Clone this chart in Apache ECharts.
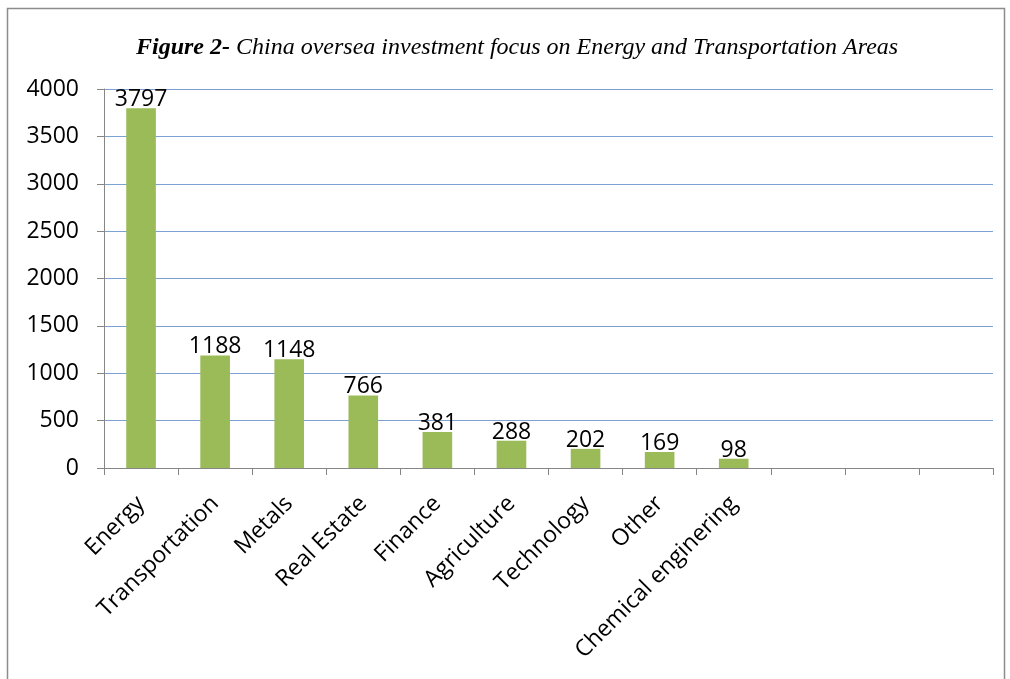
<!DOCTYPE html>
<html>
<head>
<meta charset="utf-8">
<script src="https://cdn.jsdelivr.net/npm/echarts@6/dist/echarts.min.js"></script>
<style>
html,body{margin:0;padding:0;background:#fff;}
#c{width:1010px;height:679px;}
</style>
</head>
<body>
<div id="c"></div>
<script>
const categories = ['Energy','Transportation','Metals','Real Estate','Finance','Agriculture','Technology','Other','Chemical enginering','','',''];
const values = [3797,1188,1148,766,381,288,202,169,98,null,null,null];
const yTicks = {min:0, max:4000, interval:500};
const titleBold = 'Figure 2-';
const titleRest = ' China oversea investment focus on Energy and Transportation Areas';

const chart = echarts.init(document.getElementById('c'), null, {renderer:'canvas'});
chart.setOption({
  animation:false,
  backgroundColor:'#fff',
  graphic:[{
    type:'rect', shape:{x:7.5,y:8.5,width:997,height:700},
    style:{fill:'none', stroke:'#8c8c8c', lineWidth:1.5}, silent:true
  }],
  title:{
    text:'{b|'+titleBold+'}{i|'+titleRest+'}',
    left:131, top:31,
    textStyle:{
      fontWeight:'normal',
      rich:{
        b:{fontFamily:'Liberation Serif', fontStyle:'italic', fontWeight:'bold', fontSize:24, color:'#000'},
        i:{fontFamily:'Liberation Serif', fontStyle:'italic', fontWeight:'normal', fontSize:24, color:'#000'}
      }
    }
  },
  grid:{left:104, right:17, top:89, bottom:211, containLabel:false},
  xAxis:{
    type:'category', data:categories,
    axisLine:{show:true, lineStyle:{color:'#868686', width:1}},
    axisTick:{show:true, length:7, lineStyle:{color:'#868686'}},
    axisLabel:{rotate:45, fontFamily:'Open Sans', fontSize:23, color:'#000', margin:32, interval:0},
    splitLine:{show:false}
  },
  yAxis:{
    type:'value', min:yTicks.min, max:yTicks.max, interval:yTicks.interval,
    axisLine:{show:true, lineStyle:{color:'#868686', width:1}},
    axisTick:{show:true, length:7, lineStyle:{color:'#868686'}},
    axisLabel:{fontFamily:'Open Sans', fontSize:23, color:'#000', margin:25, formatter:function(v){return String(v);}},
    splitLine:{show:true, lineStyle:{color:'#7ea1d3', width:1.2}}
  },
  series:[{
    type:'bar', data:values, barWidth:'40%',
    itemStyle:{color:'#9bbb59'},
    label:{show:true, position:'top', distance:-3, fontFamily:'Open Sans', fontSize:23, color:'#000'}
  }]
});
</script>
</body>
</html>
